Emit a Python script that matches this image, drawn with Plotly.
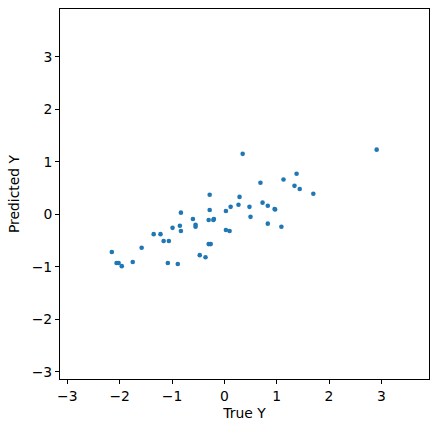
import plotly.graph_objects as go

true_y = [-2.15, -2.06, -2.02, -1.96, -1.75, -1.58, -1.35, -1.22, -1.16, -1.06,
          -1.08, -0.99, -0.85, -0.83, -0.83, -0.89, -0.60, -0.55, -0.55, -0.47,
          -0.36, -0.30, -0.28, -0.28, -0.30, -0.26, -0.20, -0.21, 0.03, 0.03,
          0.10, 0.12, 0.27, 0.29, 0.35, 0.48, 0.50, 0.69, 0.73, 0.83,
          0.83, 0.96, 0.97, 1.09, 1.13, 1.34, 1.38, 1.44, 1.70, 2.91]
pred_y = [-0.72, -0.93, -0.93, -0.99, -0.91, -0.64, -0.38, -0.38, -0.51, -0.51,
          -0.93, -0.26, -0.22, 0.03, -0.32, -0.95, -0.09, -0.20, -0.24, -0.78,
          -0.82, -0.11, 0.37, 0.08, -0.57, -0.57, -0.09, -0.11, 0.06, -0.30,
          -0.32, 0.14, 0.18, 0.33, 1.15, 0.14, -0.05, 0.60, 0.22, 0.16,
          -0.18, 0.10, 0.09, -0.24, 0.66, 0.54, 0.77, 0.48, 0.39, 1.23]
ticks = [-3, -2, -1, 0, 1, 2, 3]
lim = [-3.14, 3.91]

fig = go.Figure(go.Scatter(x=true_y, y=pred_y, mode="markers",
                           marker=dict(color="#1f77b4", size=4.6, line=dict(width=0))))

axis_common = dict(range=lim, tickvals=ticks, showgrid=False, zeroline=False,
                   showline=True, linecolor="black", linewidth=1, mirror=True,
                   ticks="outside", ticklen=4, tickcolor="black",
                   tickfont=dict(family="DejaVu Sans", size=13.9, color="black"))

fig.update_layout(
    width=439, height=432,
    margin=dict(l=60, r=10, t=9, b=53),
    plot_bgcolor="white", paper_bgcolor="white",
    showlegend=False,
    xaxis=dict(**axis_common, title=dict(text="True Y", standoff=5,
               font=dict(family="DejaVu Sans", size=13.9, color="black"))),
    yaxis=dict(**axis_common, title=dict(text="Predicted Y", standoff=8,
               font=dict(family="DejaVu Sans", size=13.9, color="black"))),
)

fig.write_html("out.html")
